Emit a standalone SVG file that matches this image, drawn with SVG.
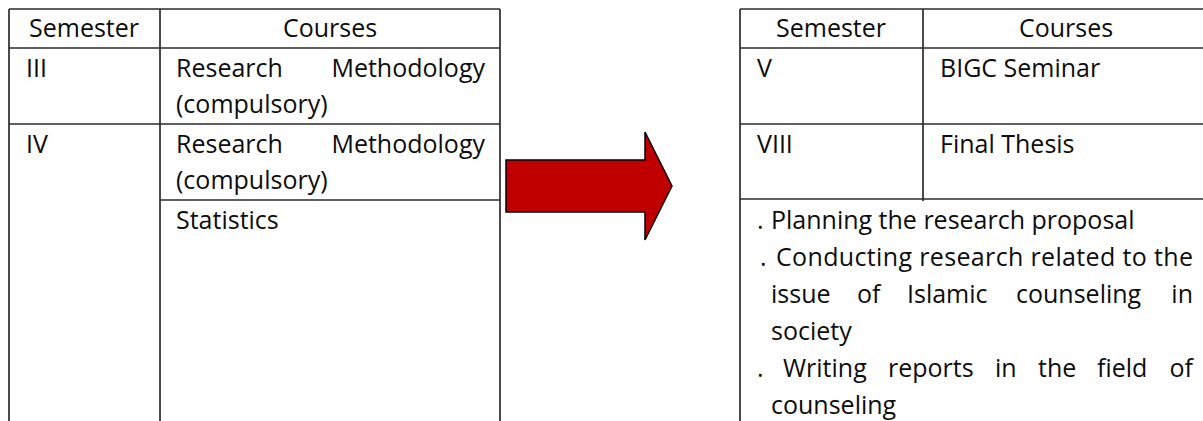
<svg xmlns="http://www.w3.org/2000/svg" width="1203" height="421" viewBox="0 0 1203 421">
<style>
.t{font-family:"Open Sans","Noto Sans","Liberation Sans",sans-serif;font-size:25px;fill:#0d0d0d}
.c{text-anchor:middle}
.e{text-anchor:end}
.ln{stroke:#2b2b2b;stroke-width:1.7;fill:none}
</style>
<rect width="1203" height="421" fill="#fff"/>
<g id="left-table">
  <g id="left-grid">
    <line class="ln" x1="9" y1="9" x2="500" y2="9"/>
    <line class="ln" x1="9" y1="9" x2="9" y2="421"/>
    <line class="ln" x1="160" y1="9" x2="160" y2="421"/>
    <line class="ln" x1="500" y1="9" x2="500" y2="421"/>
    <line class="ln" x1="9" y1="48" x2="500" y2="48"/>
    <line class="ln" x1="9" y1="124" x2="500" y2="124"/>
    <line class="ln" x1="160" y1="200" x2="500" y2="200"/>
  </g>
  <g id="left-header">
    <text class="t c" x="84" y="37">Semester</text>
    <text class="t c" x="330" y="37">Courses</text>
  </g>
  <g id="left-row-iii">
    <text class="t" x="26" y="77">III</text>
    <text class="t" x="176" y="77">Research</text>
    <text class="t e" x="485" y="77">Methodology</text>
    <text class="t" x="176" y="113">(compulsory)</text>
  </g>
  <g id="left-row-iv">
    <text class="t" x="26" y="153">IV</text>
    <text class="t" x="176" y="153">Research</text>
    <text class="t e" x="485" y="153">Methodology</text>
    <text class="t" x="176" y="189">(compulsory)</text>
    <text class="t" x="176" y="229">Statistics</text>
  </g>
</g>
<g id="connectors">
  <polygon id="arrow" points="506,160 645,160 645,132 672,186 645,240 645,212 506,212" fill="#C00000" stroke="#000" stroke-width="1.5" stroke-linejoin="miter"/>
</g>
<g id="right-table">
  <g id="right-grid">
    <line class="ln" x1="740" y1="9" x2="1203" y2="9"/>
    <line class="ln" x1="740" y1="9" x2="740" y2="421"/>
    <line class="ln" x1="923" y1="9" x2="923" y2="201"/>
    <line class="ln" x1="740" y1="48" x2="1203" y2="48"/>
    <line class="ln" x1="740" y1="124" x2="1203" y2="124"/>
    <line class="ln" x1="740" y1="199" x2="1203" y2="199"/>
  </g>
  <g id="right-header">
    <text class="t c" x="831" y="37">Semester</text>
    <text class="t c" x="1066" y="37">Courses</text>
  </g>
  <g id="right-row-v">
    <text class="t" x="757" y="77">V</text>
    <text class="t" x="940" y="77">BIGC Seminar</text>
  </g>
  <g id="right-row-viii">
    <text class="t" x="757" y="153">VIII</text>
    <text class="t" x="940" y="153">Final Thesis</text>
  </g>
  <g id="right-details">
    <text class="t" x="757" y="229">.</text>
    <text class="t" x="771" y="229">Planning the research proposal</text>
    <text class="t" x="760" y="266">.</text>
    <text class="t" x="776" y="266" textLength="417" lengthAdjust="spacing">Conducting research related to the</text>
    <text class="t" x="771" y="303">issue</text>
    <text class="t" x="857" y="303">of</text>
    <text class="t" x="907" y="303">Islamic</text>
    <text class="t" x="1016" y="303">counseling</text>
    <text class="t e" x="1193" y="303">in</text>
    <text class="t" x="771" y="340">society</text>
    <text class="t" x="757" y="377">.</text>
    <text class="t" x="783" y="377">Writing</text>
    <text class="t" x="888" y="377">reports</text>
    <text class="t" x="995" y="377">in</text>
    <text class="t" x="1038" y="377">the</text>
    <text class="t" x="1097" y="377">field</text>
    <text class="t e" x="1193" y="377">of</text>
    <text class="t" x="771" y="414">counseling</text>
  </g>
</g>
</svg>
